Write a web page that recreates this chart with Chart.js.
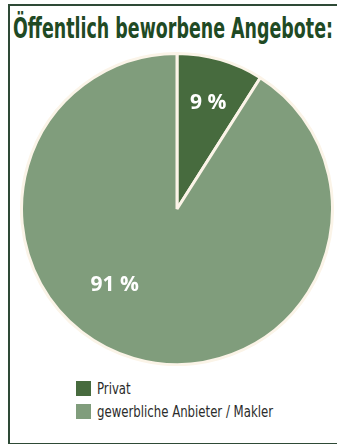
<!DOCTYPE html>
<html>
<head>
<meta charset="utf-8">
<script src="https://cdn.jsdelivr.net/npm/chart.js@4"></script>
<style>
    html, body { margin: 0; padding: 0; background: #fff; }
    #frame {
        position: relative;
        width: 337px;
        height: 444px;
        overflow: hidden;
    }
    #box {
        position: absolute;
        left: 8px; top: 4px;
        width: 340px; height: 437px;
        border-left: 2px solid #2e4a36;
        border-top: 2px solid #2e4a36;
        border-bottom: 2px solid #2e4a36;
    }
    #title {
        position: absolute;
        left: 13px; top: 12px;
        margin: 0;
        font-family: "DejaVu Sans Condensed", sans-serif;
        font-weight: bold;
        font-size: 28px;
        line-height: 34px;
        color: #1f4a24;
        white-space: nowrap;
        transform-origin: left top;
    }
    #chartWrap {
        position: absolute;
        left: 20px; top: 52px;
        width: 314px; height: 314px;
    }
    #legend {
        position: absolute;
        left: 76px; top: 377px;
        font-family: "DejaVu Sans Condensed", sans-serif;
        font-size: 16px;
        color: #2b2b2b;
    }
    .item { display: flex; align-items: center; height: 23px; }
    .swatch { width: 15px; height: 15px; margin-right: 6px; flex: none; }
    .txt { display: inline-block; white-space: nowrap; transform-origin: left center; }
</style>
</head>
<body>
<div id="frame">
    <div id="box"></div>
    <h1 id="title">Öffentlich beworbene Angebote:</h1>
    <div id="chartWrap"><canvas id="pie"></canvas></div>
    <div id="legend"></div>
</div>
<script>
const categories = ['Privat', 'gewerbliche Anbieter / Makler'];
const shares = [9, 91];
const valueLabels = ['9 %', '91 %'];
const sliceColors = ['#476b3e', '#809d7c'];

// where each percentage sits inside its slice (angle shift in degrees, radius fraction)
const labelSpots = [
    { shift: 0, radius: 0.72 },
    { shift: 24, radius: 0.62 }
];

// squeeze a text to a given width (the original uses a condensed face)
function squeeze(el, width) {
    const w = el.getBoundingClientRect().width;
    el.style.transform = `scaleX(${width / w})`;
}

const sliceLabels = {
    id: 'sliceLabels',
    afterDatasetsDraw(chart) {
        const ctx = chart.ctx;
        const meta = chart.getDatasetMeta(0);
        ctx.save();
        ctx.fillStyle = '#ffffff';
        ctx.font = 'bold 21px "Open Sans", sans-serif';
        ctx.textAlign = 'center';
        ctx.textBaseline = 'middle';
        meta.data.forEach((arc, i) => {
            const p = arc.getProps(['x', 'y', 'startAngle', 'endAngle', 'outerRadius'], true);
            const mid = (p.startAngle + p.endAngle) / 2 + labelSpots[i].shift * Math.PI / 180;
            const r = p.outerRadius * labelSpots[i].radius;
            ctx.fillText(valueLabels[i], p.x + Math.cos(mid) * r, p.y + Math.sin(mid) * r + 2);
        });
        ctx.restore();
    }
};

squeeze(document.getElementById('title'), 320);

const legendEl = document.getElementById('legend');
const legendTexts = [];
categories.forEach((name, i) => {
    const row = document.createElement('div');
    row.className = 'item';
    row.innerHTML = `<span class="swatch" style="background:${sliceColors[i]}"></span><span class="txt">${name}</span>`;
    legendEl.appendChild(row);
    legendTexts.push(row.querySelector('.txt'));
});
// legend words keep the same squeeze as the longest one
const longW = legendTexts[1].getBoundingClientRect().width;
legendTexts.forEach(t => { t.style.transform = `scaleX(${176 / longW})`; });

new Chart(document.getElementById('pie'), {
    type: 'pie',
    data: {
        labels: categories,
        datasets: [{
            data: shares,
            backgroundColor: sliceColors,
            borderColor: '#fbf4e8',
            borderWidth: 3
        }]
    },
    options: {
        responsive: true,
        maintainAspectRatio: false,
        animation: false,
        plugins: {
            legend: { display: false },
            tooltip: { enabled: false }
        }
    },
    plugins: [sliceLabels]
});
</script>
</body>
</html>
